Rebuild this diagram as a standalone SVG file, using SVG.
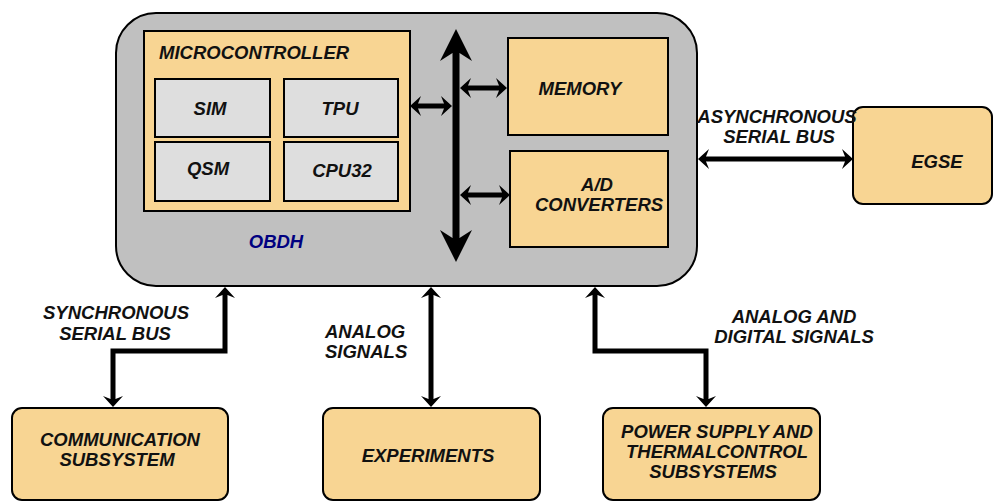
<svg xmlns="http://www.w3.org/2000/svg" width="994" height="501" viewBox="0 0 994 501">
<style>
  .t{font-family:"Liberation Sans",Arial,sans-serif;font-size:18.5px;font-weight:bold;font-style:italic;fill:#111}
  .m{text-anchor:middle}
  .box{fill:#F8D593;stroke:#000;stroke-width:2}
  .sub{fill:#DEDEDE;stroke:#000;stroke-width:2}
  .obdh{fill:#C0C0C0;stroke:#000;stroke-width:2}
  .c{fill:none;stroke:#000;stroke-width:5;stroke-linejoin:miter;marker-start:url(#ah);marker-end:url(#ah)}
</style>
<defs>
  <marker id="ah" markerUnits="userSpaceOnUse" viewBox="-12 -11 13 22" markerWidth="13" markerHeight="22" refX="-6" refY="0" orient="auto-start-reverse" overflow="visible">
    <path d="M0,0 L-11,-10 L-8,-2.5 L-8,2.5 L-11,10 Z" fill="#000"/>
  </marker>
  <marker id="big" markerUnits="userSpaceOnUse" viewBox="-33 -17 34 34" markerWidth="34" markerHeight="34" refX="-20" refY="0" orient="auto-start-reverse" overflow="visible">
    <path d="M0,0 L-32,-16 L-24,-3.5 L-24,3.5 L-32,16 Z" fill="#000"/>
  </marker>
</defs>

<g id="obdh">
  <rect class="obdh" x="116" y="13" width="581" height="273" rx="40" ry="40"/>
  <text class="t m" x="276" y="248" style="fill:#000080">OBDH</text>
</g>

<g id="microcontroller">
  <rect class="box" x="144" y="31" width="266" height="180"/>
  <text class="t" x="159" y="59">MICROCONTROLLER</text>
</g>
<g id="sim">
  <rect class="sub" x="155" y="79" width="115" height="58"/>
  <text class="t m" x="210" y="115">SIM</text>
</g>
<g id="tpu">
  <rect class="sub" x="284" y="79" width="114" height="58"/>
  <text class="t m" x="340" y="115">TPU</text>
</g>
<g id="qsm">
  <rect class="sub" x="155" y="142" width="115" height="59"/>
  <text class="t m" x="208" y="175">QSM</text>
</g>
<g id="cpu32">
  <rect class="sub" x="284" y="142" width="114" height="59"/>
  <text class="t m" x="342" y="177">CPU32</text>
</g>

<g id="memory">
  <rect class="box" x="508" y="38" width="160" height="97"/>
  <text class="t m" x="580" y="95">MEMORY</text>
</g>
<g id="ad">
  <rect class="box" x="510" y="151" width="158" height="96"/>
  <text class="t m" x="597" y="191">A/D</text>
  <text class="t m" x="599" y="211">CONVERTERS</text>
</g>

<g id="egse">
  <rect class="box" x="853" y="107" width="139" height="97" rx="10" ry="10"/>
  <text class="t m" x="937" y="168">EGSE</text>
</g>

<g id="communication">
  <rect class="box" x="12" y="408" width="216" height="92" rx="10" ry="10"/>
  <text class="t m" x="120" y="446">COMMUNICATION</text>
  <text class="t m" x="117" y="466">SUBSYSTEM</text>
</g>
<g id="experiments">
  <rect class="box" x="323" y="408" width="217" height="92" rx="10" ry="10"/>
  <text class="t m" x="428" y="462">EXPERIMENTS</text>
</g>
<g id="power">
  <rect class="box" x="603" y="408" width="217" height="92" rx="10" ry="10"/>
  <text class="t m" x="717" y="438">POWER SUPPLY AND</text>
  <text class="t m" x="717" y="458">THERMALCONTROL</text>
  <text class="t m" x="713" y="478">SUBSYSTEMS</text>
</g>

<g id="connectors">
  <line x1="456" y1="49" x2="456" y2="242" stroke="#000" stroke-width="7" marker-start="url(#big)" marker-end="url(#big)"/>
  <line class="c" x1="416" y1="106" x2="446" y2="106"/>
  <line class="c" x1="466" y1="88" x2="501" y2="88"/>
  <line class="c" x1="466" y1="195" x2="504" y2="195"/>
  <line class="c" x1="704" y1="159" x2="847" y2="159"/>
  <path class="c" d="M225,293 V351 H113 V401"/>
  <line class="c" x1="431" y1="293" x2="431" y2="401"/>
  <path class="c" d="M595,293 V351 H706 V401"/>
</g>

<g id="labels">
  <text class="t m" x="777" y="123">ASYNCHRONOUS</text>
  <text class="t m" x="779" y="143">SERIAL BUS</text>
  <text class="t m" x="116" y="319">SYNCHRONOUS</text>
  <text class="t m" x="115" y="340">SERIAL BUS</text>
  <text class="t" x="325" y="338">ANALOG</text>
  <text class="t" x="325" y="358">SIGNALS</text>
  <text class="t m" x="794" y="323">ANALOG AND</text>
  <text class="t m" x="794" y="343">DIGITAL SIGNALS</text>
</g>
</svg>
